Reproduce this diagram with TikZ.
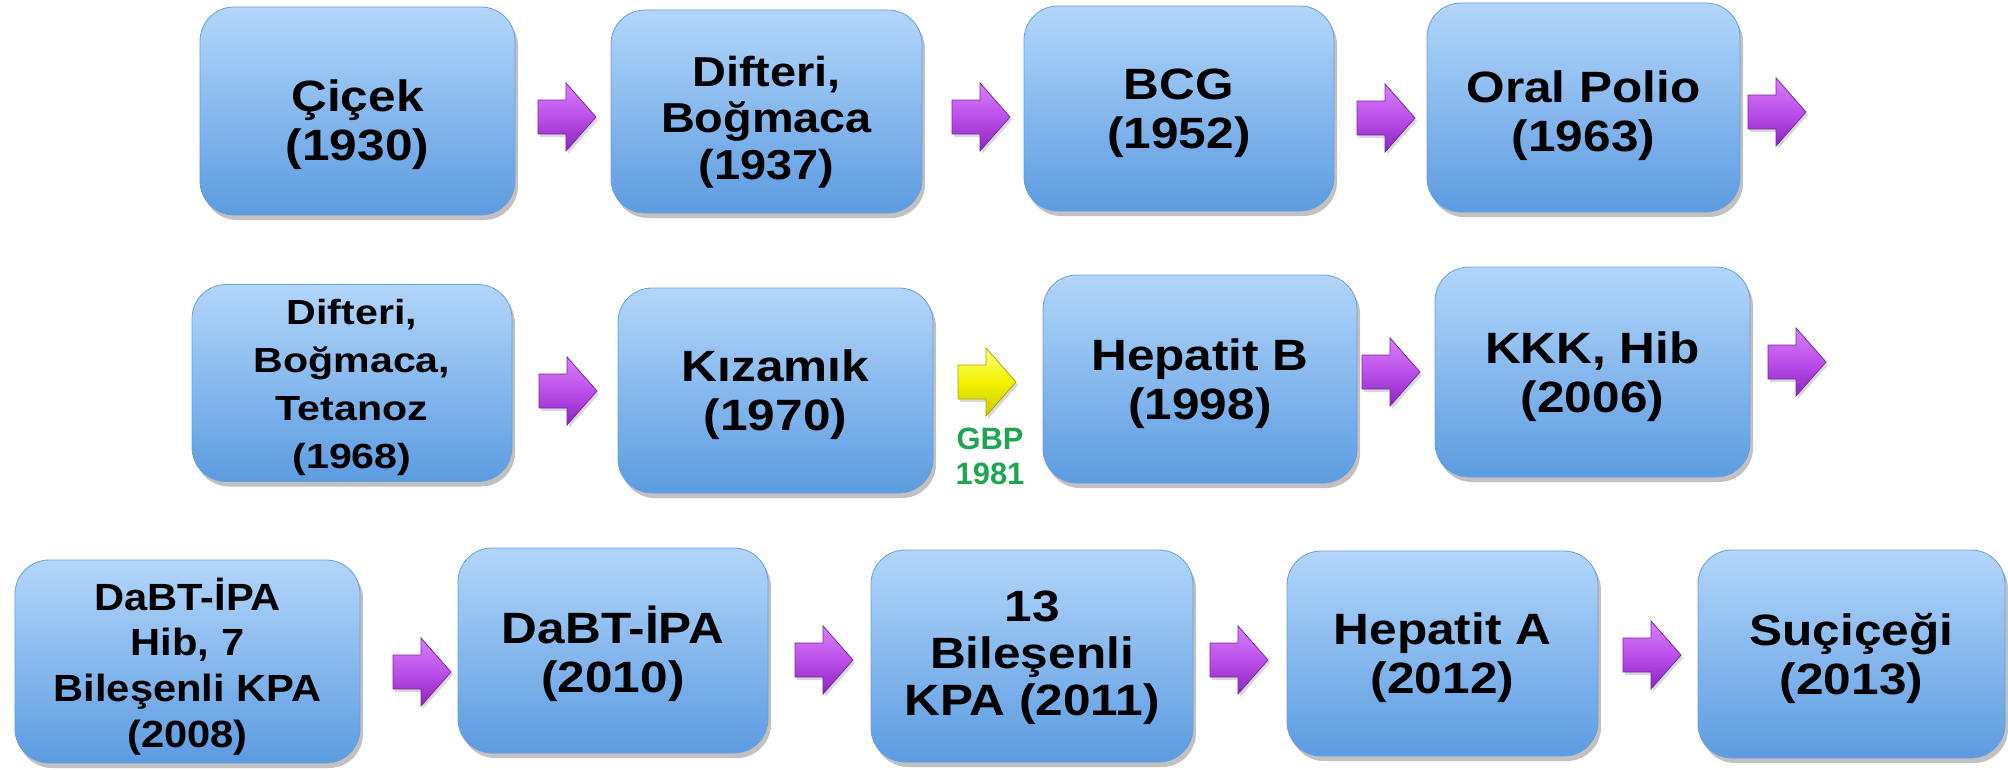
\documentclass[tikz,border=0pt]{standalone}
\usepackage{fontspec}
\setmainfont{Liberation Sans}
\usetikzlibrary{shadows}
\definecolor{boxtop}{HTML}{B2D6FA}
\definecolor{boxbot}{HTML}{5C9BE1}
\definecolor{boxedge}{HTML}{6C9ED8}
\definecolor{purpT}{HTML}{D680F7}
\definecolor{purpM}{HTML}{BC4FEA}
\definecolor{purpB}{HTML}{8B25BF}
\definecolor{purpEdge}{HTML}{7E22AE}
\definecolor{yelT}{HTML}{FFFF7A}
\definecolor{yelM}{HTML}{F2F200}
\definecolor{yelB}{HTML}{C8C800}
\definecolor{yelEdge}{HTML}{A9A900}
\definecolor{gbpgreen}{HTML}{1FA552}
% \vtxt[down shift]{font size}{leading}{x scale}{lines}
\newcommand{\vtxt}[5][6]{\raisebox{-#1bp}[\height][\depth]{\scalebox{#4}[1]{\fontsize{#2}{#3}\selectfont\bfseries\begin{tabular}{@{}c@{}}#5\end{tabular}}}}
% block arrow centred on a named coordinate
\newcommand{\blockarrow}[2]{\path[#1, shift={(#2)}] (-29,-17) -- (-1,-17) -- (-1,-34) -- (29,0) -- (-1,34) -- (-1,17) -- (-29,17) -- cycle;}
\begin{document}
\begin{tikzpicture}[x=1bp,y=1bp,
  vbox/.style={rounded corners=34bp, draw=boxedge, line width=0.8bp,
    top color=boxtop, bottom color=boxbot, inner sep=0pt,
    drop shadow={shadow xshift=3bp, shadow yshift=-5bp, opacity=0.35, fill=black!70}},
  parrow/.style={draw=purpEdge, line width=0.8bp, line join=miter,
    top color=purpT, bottom color=purpB, middle color=purpM,
    drop shadow={shadow xshift=2bp, shadow yshift=-3bp, opacity=0.25, fill=black!60}},
  yarrow/.style={draw=yelEdge, line width=0.8bp, line join=miter,
    top color=yelT, bottom color=yelB, middle color=yelM,
    drop shadow={shadow xshift=2bp, shadow yshift=-3bp, opacity=0.25, fill=black!60}}
]
\useasboundingbox (0,0) rectangle (2008,-770);
% row 1
\node[vbox, minimum width=315bp, minimum height=208bp] (A1) at (357.5,-111) {\vtxt[15]{44}{49}{1.13}{Çiçek\\(1930)}};
\node[vbox, minimum width=311bp, minimum height=203bp] (A2) at (766.5,-111.5) {\vtxt[12]{42}{47}{1.12}{Difteri,\\Boğmaca\\(1937)}};
\node[vbox, minimum width=310bp, minimum height=205bp] (A3) at (1179,-108.5) {\vtxt{44}{49}{1.13}{BCG\\(1952)}};
\node[vbox, minimum width=313bp, minimum height=209bp] (A4) at (1583.5,-107.5) {\vtxt[10]{44}{49}{1.13}{Oral Polio\\(1963)}};
% row 2
\node[vbox, minimum width=320bp, minimum height=197bp] (B1) at (352,-383) {\vtxt[4]{35}{48}{1.18}{Difteri,\\Boğmaca,\\Tetanoz\\(1968)}};
\node[vbox, minimum width=315bp, minimum height=205bp] (B2) at (775.5,-390.5) {\vtxt{44}{49}{1.13}{Kızamık\\(1970)}};
\node[vbox, minimum width=314bp, minimum height=208bp] (B3) at (1200,-379) {\vtxt{44}{49}{1.13}{Hepatit B\\(1998)}};
\node[vbox, minimum width=315bp, minimum height=210bp] (B4) at (1592.5,-372) {\vtxt{44}{49}{1.13}{KKK, Hib\\(2006)}};
% row 3
\node[vbox, minimum width=345bp, minimum height=203bp] (C1) at (187.5,-661.5) {\vtxt[8]{38}{46}{1.1}{DaBT-İPA\\Hib, 7\\Bileşenli KPA\\(2008)}};
\node[vbox, minimum width=310bp, minimum height=205bp] (C2) at (613,-650.5) {\vtxt{44}{49}{1.13}{DaBT-İPA\\(2010)}};
\node[vbox, minimum width=322bp, minimum height=212bp] (C3) at (1032,-656) {\vtxt[3]{44}{47}{1.13}{13\\Bileşenli\\KPA (2011)}};
\node[vbox, minimum width=311bp, minimum height=205bp] (C4) at (1442.5,-653.5) {\vtxt{44}{49}{1.13}{Hepatit A\\(2012)}};
\node[vbox, minimum width=307bp, minimum height=208bp] (C5) at (1851.5,-654) {\vtxt{44}{49}{1.13}{Suçiçeği\\(2013)}};
% arrow positions
\coordinate (a1) at (567,-117);
\coordinate (a2) at (981,-117);
\coordinate (a3) at (1386,-118);
\coordinate (a4) at (1777,-112);
\coordinate (b1) at (568,-391);
\coordinate (y1) at (987,-382);
\coordinate (b3) at (1391,-372);
\coordinate (b4) at (1797,-362);
\coordinate (c1) at (422,-672);
\coordinate (c2) at (824,-660);
\coordinate (c3) at (1239,-660);
\coordinate (c4) at (1652,-655);
\blockarrow{parrow}{a1}
\blockarrow{parrow}{a2}
\blockarrow{parrow}{a3}
\blockarrow{parrow}{a4}
\blockarrow{parrow}{b1}
\blockarrow{yarrow}{y1}
\blockarrow{parrow}{b3}
\blockarrow{parrow}{b4}
\blockarrow{parrow}{c1}
\blockarrow{parrow}{c2}
\blockarrow{parrow}{c3}
\blockarrow{parrow}{c4}
\node[font=\fontsize{31}{35}\selectfont\bfseries, text=gbpgreen, align=center, inner sep=0pt] (gbp) at (990,-456) {GBP\\1981};
\end{tikzpicture}
\end{document}
